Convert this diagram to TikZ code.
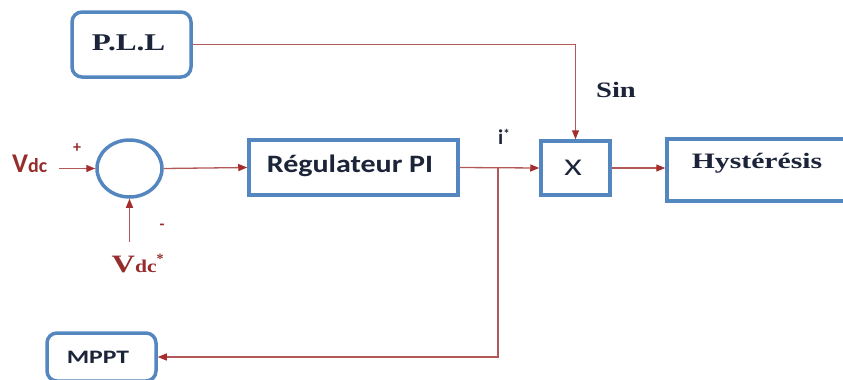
\documentclass[tikz,border=0pt]{standalone}
\usepackage{fontspec}
\setmainfont{Liberation Serif}
\setsansfont{Carlito}
\usetikzlibrary{shapes.geometric,arrows.meta}
\definecolor{boxblue}{RGB}{84,134,192}
\definecolor{sigred}{RGB}{178,88,88}
\definecolor{tipred}{RGB}{165,45,45}
\definecolor{inkdark}{RGB}{28,36,58}
\definecolor{lblred}{RGB}{150,45,45}
\newcommand{\wide}[2]{\scalebox{#1}[1]{#2}}
\newcommand{\fsz}[1]{\fontsize{#1}{#1}\selectfont}
\tikzset{
  blk/.style={draw=boxblue, line width=3.5pt, fill=white, inner sep=0pt},
  rblk/.style={blk, rounded corners=10pt},
  sig/.style={draw=sigred, line width=1.3pt,
    -{Triangle[length=9pt,width=7pt,color=tipred]}},
  serifbf/.style={text=inkdark, font=\rmfamily\bfseries},
  sansbf/.style={text=inkdark, font=\sffamily\bfseries},
}
\begin{document}
\begin{tikzpicture}[x=1pt,y=-1pt]
\useasboundingbox (0,0) rectangle (843,380);
\clip (0,0) rectangle (843,380);

% blocks
\node[rblk, minimum width=119pt, minimum height=65pt] (pll) at (131.5,44.5) {};
\node[serifbf] at (128.5,43) {\fsz{24}\wide{1.3}{P.L.L}};

\node[blk, ellipse, minimum width=65pt, minimum height=57pt] (sum) at (129.5,168.5) {};

\node[blk, minimum width=209pt, minimum height=55pt] (reg) at (353.5,167.5) {};
\node[sansbf] at (350,166) {\fsz{25}\wide{1.2}{Régulateur PI}};

\node[blk, minimum width=69pt, minimum height=54pt] (xb) at (575.5,168) {};
\node[text=inkdark, font=\sffamily] at (573,168) {\fsz{24}\wide{1.4}{X}};

\node[blk, minimum width=213pt, minimum height=62pt] (hyst) at (773.5,170) {};
\node[serifbf] at (757,163) {\fsz{22}\wide{1.35}{Hystérésis}};

\node[rblk, minimum width=109pt, minimum height=48pt] (mppt) at (101.5,357) {};
\node[sansbf] at (98,357) {\fsz{19}\wide{1.35}{MPPT}};

% inputs of the summing junction
\node[text=lblred, font=\sffamily\bfseries, anchor=base west, inner sep=0pt] (vdc) at (12,172)
  {\fsz{27}V\fsz{20}dc};
\coordinate (vin) at (59,168.5);
\node[text=lblred, font=\sffamily\bfseries] at (77,148) {\fsz{16}+};

\node[text=lblred, font=\rmfamily\bfseries, anchor=base west] (vref) at (108,272)
  {\fsz{25}\wide{1.3}{V}\fsz{18}\wide{1.2}{dc}\raisebox{9pt}{\fsz{14}*}};
\coordinate (vrin) at (129.5,242);
\node[text=lblred, font=\sffamily\bfseries] at (162,227) {\fsz{16}-};

% signal labels
\node[sansbf] at (504,137) {\fsz{21}i\raisebox{6pt}{\fsz{13}*}};
\node[serifbf] at (616,90) {\fsz{22}\wide{1.3}{Sin}};

% connectors
\draw[sig] (vin) -- (sum.west);
\draw[sig] (vrin) -- (sum.south);
\draw[sig] (sum.east) -- (reg.west);
\draw[sig] (reg.east) -- (xb.west);
\coordinate (br) at (498,167.5);
\draw[sig] (br) |- (mppt.east);
\draw[sig] (pll.east) -| (xb.north);
\draw[sig] (xb.east) -- (xb.east -| hyst.west);
\end{tikzpicture}
\end{document}
